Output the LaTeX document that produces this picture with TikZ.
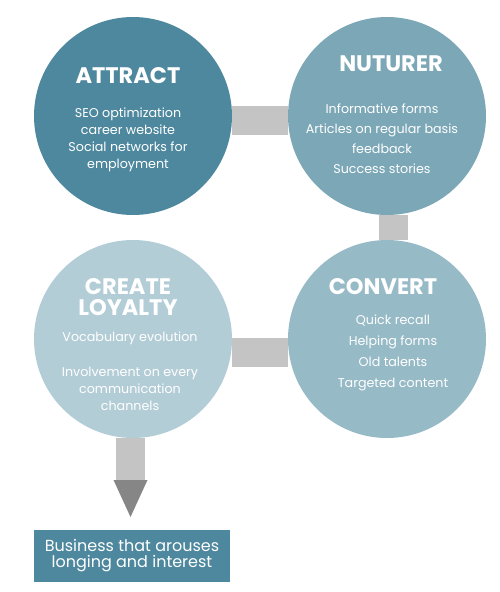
\documentclass[tikz,border=0pt]{standalone}
\usepackage{fontspec}
\setmainfont{Poppins}
\usepackage{tikz}
\usetikzlibrary{positioning, backgrounds}

\definecolor{attractcol}{HTML}{4E889E}
\definecolor{nuturercol}{HTML}{7BA7B7}
\definecolor{loyaltycol}{HTML}{B3CDD7}
\definecolor{convertcol}{HTML}{97BAC7}
\definecolor{barcol}{HTML}{C4C4C4}
\definecolor{headcol}{HTML}{868686}

\begin{document}
\begin{tikzpicture}[
    x=1pt, y=-1pt,
    stage/.style={circle, minimum size=198pt, inner sep=0pt},
    title/.style={text=white, font=\bfseries\fontsize{22.5}{21}\selectfont, align=center, inner sep=0pt},
    items/.style={text=white, font=\fontsize{12.7}{#1}\selectfont, align=center, inner sep=0pt},
    items/.default=17,
    bar/.style={barcol, line width=29pt}
]
    \useasboundingbox (0,0) rectangle (500,592);

    % Cerchi delle fasi
    \node[stage, fill=attractcol] (attract) at (133,116) {};
    \node[stage, fill=nuturercol] (nuturer) at (387,116) {};
    \node[stage, fill=loyaltycol] (loyalty) at (133,339) {};
    \node[stage, fill=convertcol] (convert) at (387,339) {};

    % Titoli
    \node[title] (attracttitle) at (128,76) {ATTRACT};
    \node[title] (nuturertitle) at (391,64) {NUTURER};
    \node[title] (loyaltytitle) at (128,297) {CREATE\\LOYALTY};
    \node[title] (converttitle) at (383,287) {CONVERT};

    % Voci
    \node[items] (attractitems) at (128,140) {SEO optimization\\career website\\Social networks for\\employment};
    \node[items=20] (nutureritems) at (382,139) {Informative forms\\Articles on regular basis\\feedback\\Success stories};
    \node[items] (loyaltyitems) at (130,371) {Vocabulary evolution\\[18pt]Involvement on every\\communication\\channels};
    \node[items=21] (convertitems) at (393,353) {Quick recall\\Helping forms\\Old talents\\Targeted content};

    % Risultato finale
    \node[fill=attractcol, text=white, minimum width=196pt, minimum height=52pt, inner sep=0pt,
          align=center, font=\fontsize{16}{16}\selectfont] (outcome) at (132,556)
          {Business that arouses\\longing and interest};

    % Collegamenti
    \begin{scope}[on background layer]
        \draw[bar] ([yshift=-4pt]attract.east) -- ([yshift=-4pt]nuturer.west);
        \draw[bar] ([xshift=6.5pt]nuturer.south) -- ([xshift=6.5pt]convert.north);
        \draw[bar] ([yshift=-13.5pt]loyalty.east) -- ([yshift=-13.5pt]convert.west);
    \end{scope}

    % Freccia verso il risultato
    \coordinate (headbase) at (130.5,480);
    \coordinate (headtip) at (130.5,517);
    \draw[bar] ([xshift=-2.5pt]loyalty.south) -- (headbase);
    \fill[headcol] ([xshift=-17pt]headbase) -- ([xshift=17pt]headbase) -- (headtip) -- cycle;

\end{tikzpicture}
\end{document}
